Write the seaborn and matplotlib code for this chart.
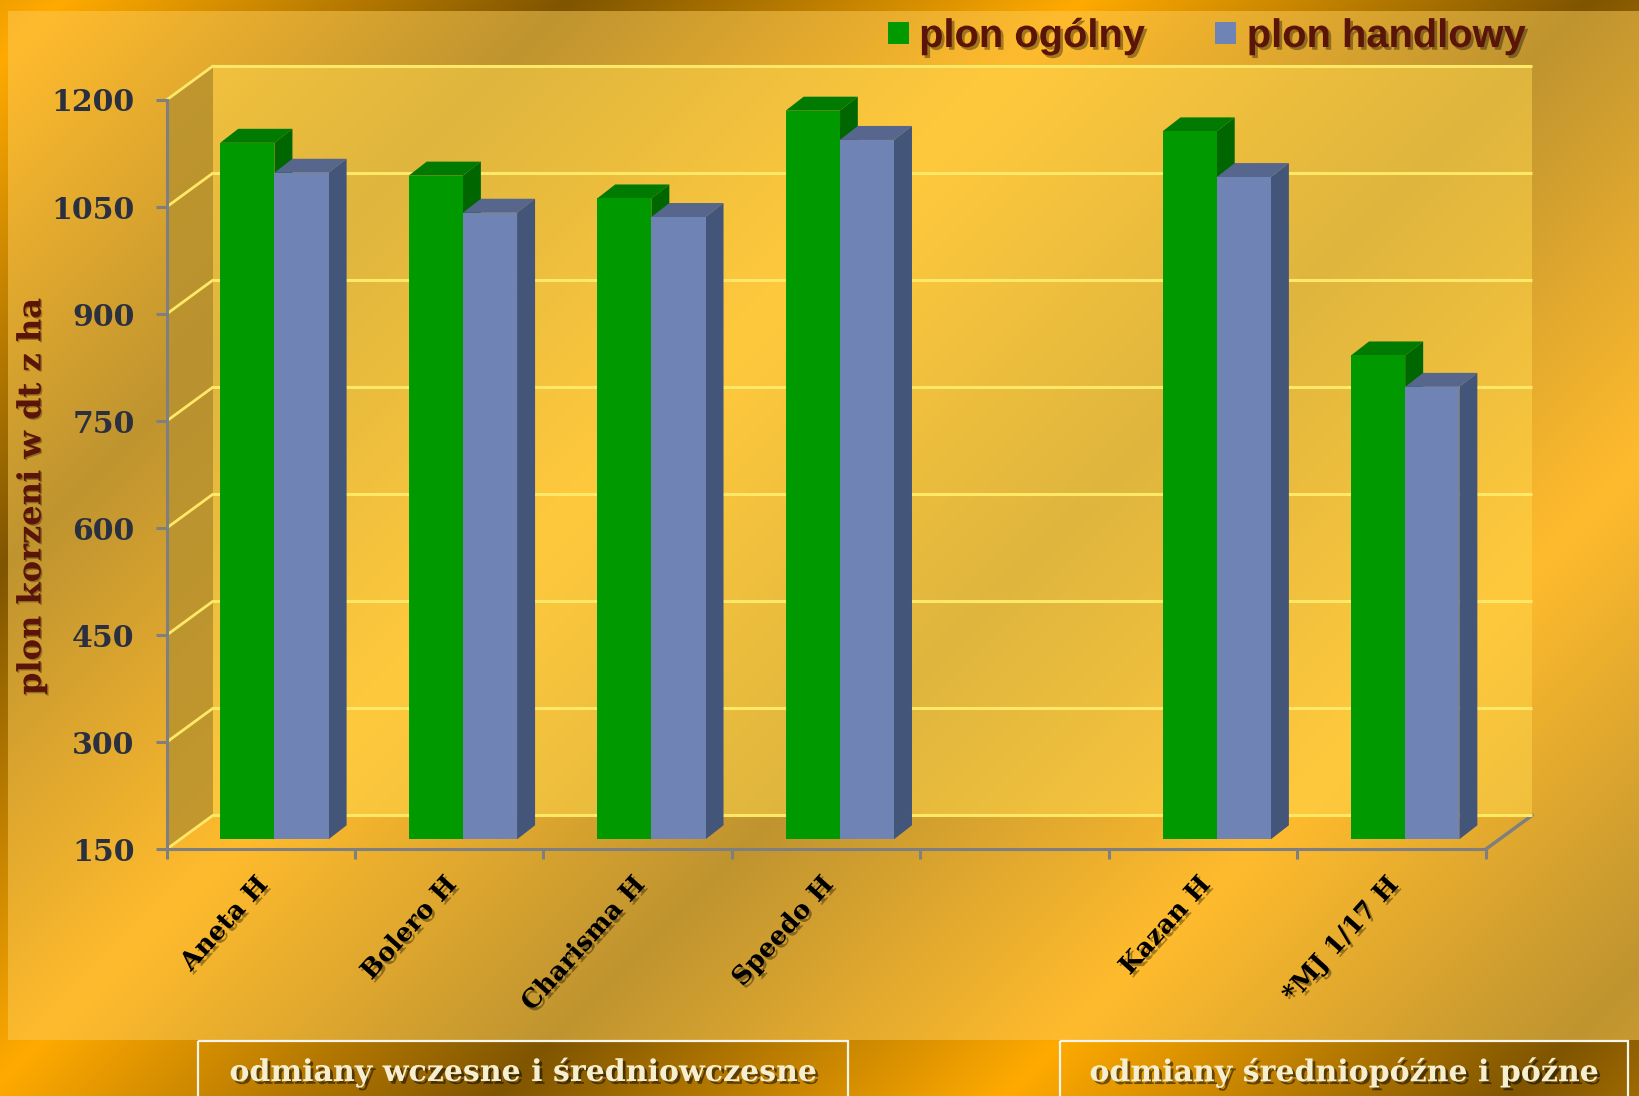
import numpy as np
import pandas as pd
import matplotlib.pyplot as plt
import matplotlib.patheffects as pe
from matplotlib.colors import to_rgb
from matplotlib.patches import Polygon, Rectangle
from matplotlib.transforms import ScaledTranslation
import seaborn as sns

# === DATA ===
categories = ["Aneta H", "Bolero H", "Charisma H", "Speedo H", " ", "Kazan H", "*MJ 1/17 H"]
plon_ogolny = [1126, 1080, 1048, 1171, np.nan, 1142, 828]
plon_handlowy = [1084, 1028, 1022, 1130, np.nan, 1078, 784]
y_ticks = [150, 300, 450, 600, 750, 900, 1050, 1200]
series_names = ["plon ogólny", "plon handlowy"]

# === LAYOUT (pixels of the 1640x1096 picture) ===
W, H = 1640, 1096
PLANE_W, PLANE_H = 1319.2, 749.3
FRONT = (166.5, 849.3)
BARS = (180.2, 839.3)
WALL = (213.0, 815.3)
BAR_DX, BAR_DY = 18.0, 14.0

GREEN = ("#009900", "#007A00", "#006600")
BLUE = ("#6F83B4", "#56668C", "#44557A")
GRID = "#FFE868"
AXIS = "#7F7F80"
BROWN = "#5A1408"
SERIF = "DejaVu Serif"

sns.set_theme(style="white", rc={"axes.facecolor": "none", "figure.facecolor": "none"})
plt.rcParams["font.family"] = [SERIF]

fig = plt.figure(figsize=(W / 100, H / 100), dpi=100)


def plane_axes(origin, zorder):
    axis = fig.add_axes([origin[0] / W, 1 - origin[1] / H, PLANE_W / W, PLANE_H / H], zorder=zorder)
    axis.set_xlim(-0.5, 6.5)
    axis.set_ylim(150, 1200)
    axis.patch.set_alpha(0)
    return axis


def shine(xx, yy, bright, dark):
    # diagonal reflected gradient of the slide background
    phase = np.abs(((xx + yy - 60) / 510 + 1) % 2 - 1)
    bright = np.array(to_rgb(bright))
    dark = np.array(to_rgb(dark))
    return bright + (dark - bright) * phase[..., None]


def shadow(dist=2, alpha=0.45):
    return [pe.withSimplePatchShadow(offset=(dist, -dist), shadow_rgbFace="#000000", alpha=alpha)]


# === BACKGROUND ===
bg = fig.add_axes([0, 0, 1, 1], zorder=0)
bg.set_xlim(0, W)
bg.set_ylim(H, 0)
bg.axis("off")
xx, yy = np.meshgrid(np.arange(W), np.arange(H))
outer = shine(xx, yy, "#FFAA00", "#7F5500")
inner = shine(xx, yy, "#FFBB2D", "#BF9430")
picture = outer.copy()
picture[11:1040, 8:] = inner[11:1040, 8:]
bg.imshow(picture, extent=(0, W, H, 0), aspect="auto", interpolation="nearest")

# === 3D WALLS ===
fx, fy = FRONT
wx, wy = WALL
bg.add_patch(Rectangle((wx, wy - PLANE_H), PLANE_W, PLANE_H, fc="#FFD74C", ec="none", alpha=0.5))
bg.add_patch(Polygon([(fx, fy), (fx, fy - PLANE_H), (wx, wy - PLANE_H), (wx, wy)], fc="#B8922F", ec="none", alpha=0.85))
for tick in y_ticks:
    shift = (tick - 150) / 1050 * PLANE_H
    bg.plot([fx, wx], [fy - shift, wy - shift], color=GRID, lw=2.0, solid_capstyle="round")
bg.plot([fx + PLANE_W, wx + PLANE_W], [fy, wy], color=AXIS, lw=2.5)

ax_wall = plane_axes(WALL, 1)
ax_wall.axis("off")
ax_wall.hlines(y_ticks, -0.5, 6.5, color=GRID, lw=2.2, clip_on=False)

# === FRONT AXES ===
ax = plane_axes(FRONT, 2)
sns.despine(ax=ax)
for side in ["left", "bottom"]:
    ax.spines[side].set_color(AXIS)
    ax.spines[side].set_linewidth(2.2)
ax.set_yticks(y_ticks)
ax.set_yticklabels(y_ticks, fontsize=21.5, fontweight="bold", color="#2B3040")
ax.tick_params(axis="y", length=8, width=2.2, color=AXIS, pad=15, left=True)
ax.set_xticks(np.arange(-0.5, 7, 1))
ax.set_xticklabels([])
ax.set_xticks(np.arange(7), minor=True)
ax.set_xticklabels(categories, minor=True, rotation=48, ha="right", va="center",
                   rotation_mode="anchor", fontsize=18.5, fontweight="bold", color="black",
                   path_effects=shadow(2, 0.35))
ax.tick_params(axis="x", which="major", length=7, width=2.2, color=AXIS, bottom=True)
ax.tick_params(axis="x", which="minor", length=0, pad=22)
nudge = ScaledTranslation(3 / 100, 0, fig.dpi_scale_trans)
for label in ax.get_xticklabels(minor=True):
    label.set_transform(label.get_transform() + nudge)

# === BARS ===
ax_bar = plane_axes(BARS, 3)
df = pd.DataFrame({
    "odmiana": categories * 2,
    "plon": plon_ogolny + plon_handlowy,
    "seria": [series_names[0]] * 7 + [series_names[1]] * 7,
})
sns.barplot(data=df, x="odmiana", y="plon", hue="seria", order=categories, hue_order=series_names,
            palette=[GREEN[0], BLUE[0]], width=0.575, dodge=True, gap=0, saturation=1,
            errorbar=None, ax=ax_bar, zorder=3, linewidth=0)
ax_bar.set_xlim(-0.5, 6.5)
ax_bar.set_ylim(150, 1200)
ax_bar.axis("off")

# depth faces come from the drawn bars
dx = BAR_DX * 7 / PLANE_W
dy = BAR_DY * 1050 / PLANE_H
for container, shades, level in zip(ax_bar.containers, [GREEN, BLUE], [2, 4]):
    for bar in container:
        x, w, top = bar.get_x(), bar.get_width(), bar.get_height()
        if np.isnan(top) or top == 0:
            continue
        bar.set_zorder(level + 1)
        ax_bar.add_patch(Polygon([(x, top), (x + w, top), (x + w + dx, top + dy), (x + dx, top + dy)],
                                 fc=shades[1], ec="none", zorder=level, clip_on=False))
        ax_bar.add_patch(Polygon([(x + w, 150), (x + w, top), (x + w + dx, top + dy), (x + w + dx, 150 + dy)],
                                 fc=shades[2], ec="none", zorder=level, clip_on=False))

# === LEGEND ===
sns.move_legend(ax_bar, "center right", bbox_to_anchor=(1526 / W, 1 - 36 / H), bbox_transform=fig.transFigure,
                ncol=2, title=None, frameon=False, handlelength=0.53, handleheight=0.45,
                handletextpad=0.26, columnspacing=1.76, borderpad=0, borderaxespad=0,
                prop={"family": "Liberation Sans", "weight": "bold", "size": 28.7})
for label in ax_bar.get_legend().get_texts():
    label.set_color(BROWN)
    label.set_path_effects(shadow(2, 0.35))

# === TEXTS ===
bg.text(32, 496, "plon korzeni w dt z ha", rotation=90, ha="center", va="center", fontsize=23.1,
        fontweight="bold", color=BROWN, path_effects=shadow(1, 0.3))

for left, right, text in [(198, 848.5, "odmiany wczesne i średniowczesne"),
                          (1060, 1628.5, "odmiany średniopóźne i późne")]:
    bg.add_patch(Rectangle((left, 1041), right - left, 80, fc="none", ec="#F5F5F0", lw=1.6))
    bg.text((left + right) / 2, 1072, text, ha="center", va="center", fontsize=21.6,
            fontweight="bold", color="#F5EFD0", path_effects=shadow(2, 0.5))

fig.savefig("out.png", dpi=100)
plt.close(fig)
